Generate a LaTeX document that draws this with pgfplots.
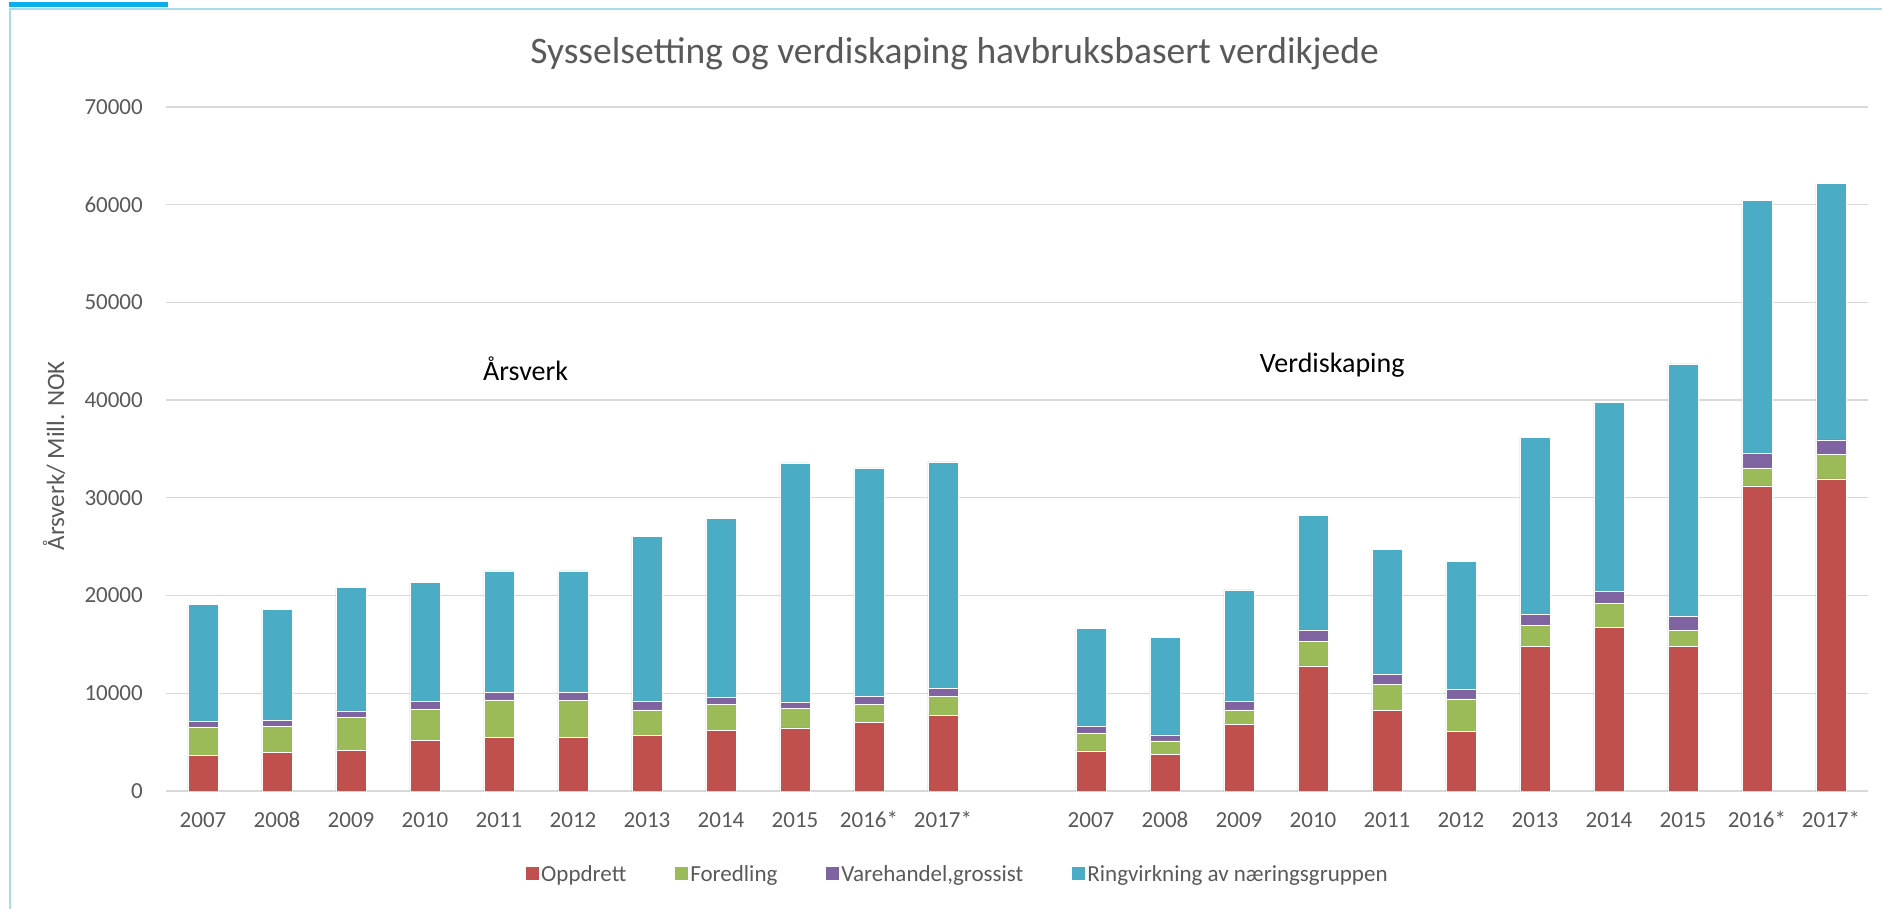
\documentclass[border=0pt]{standalone}
\usepackage{fontspec}
\setmainfont{Carlito}
\usepackage{pgfplots}
\pgfplotsset{compat=1.18}
\usepackage{pgfplotstable}
\definecolor{cOpp}{HTML}{C0504D}
\definecolor{cFor}{HTML}{9BBB59}
\definecolor{cVar}{HTML}{8064A2}
\definecolor{cRing}{HTML}{4BACC6}
\definecolor{txtgray}{HTML}{595959}
\definecolor{gridgray}{HTML}{D9D9D9}
\definecolor{frameblue}{HTML}{0AAEEA}
\definecolor{framelight}{HTML}{A8DDE8}

\pgfplotstableread{
x  opp   for  var  ring
0  3630  2920 610  11920
1  3960  2680 610  11360
2  4190  3350 660  12620
3  5180  3160 850  12150
4  5460  3870 750  12440
5  5460  3820 800  12440
6  5700  2590 900  16860
7  6170  2690 700  18330
8  6450  1980 660  24490
9  7020  1880 760  23410
10 7720  1980 760  23220
12 4100  1830 710  10030
13 3720  1410 620  9940
14 6830  1460 900  11390
15 12810 2500 1180 11720
16 8240  2640 1080 12770
17 6080  3340 990  13050
18 14790 2170 1130 18130
19 16770 2450 1220 19310
20 14790 1650 1410 25860
21 31230 1840 1500 25910
22 31940 2490 1510 26280
}\data

\begin{document}
\begin{tikzpicture}
\useasboundingbox (0,0) rectangle (1882pt,909pt);
\fill[frameblue] (9pt,902pt) rectangle (168pt,907pt);
\draw[framelight, line width=2pt] (9pt,900pt) -- (1882pt,900pt);
\draw[framelight, line width=2pt] (10pt,900pt) -- (10pt,0pt);
\node[font=\fontsize{37.5}{45}\selectfont, text=txtgray] at (954.5pt,855pt) {Sysselsetting og verdiskaping havbruksbasert verdikjede};
\begin{axis}[
  at={(166pt,118pt)}, anchor=south west, scale only axis,
  width=1702pt, height=684pt,
  xmin=-0.5, xmax=22.5, ymin=0, ymax=70000,
  ybar stacked, bar width=30pt,
  axis line style={draw=none},
  ymajorgrids, grid style={gridgray, line width=1.3pt},
  major tick length=0pt,
  xtick={0,1,2,3,4,5,6,7,8,9,10,12,13,14,15,16,17,18,19,20,21,22},
  xticklabels={2007,2008,2009,2010,2011,2012,2013,2014,2015,2016*,2017*,2007,2008,2009,2010,2011,2012,2013,2014,2015,2016*,2017*},
  ytick={0,10000,20000,30000,40000,50000,60000,70000},
  scaled y ticks=false,
  xticklabel style={font=\fontsize{23}{28}\selectfont, text=txtgray, anchor=base, yshift=-36.5pt, inner sep=0pt},
  yticklabel style={font=\fontsize{23}{28}\selectfont, text=txtgray, anchor=east, inner sep=0pt, xshift=-23pt,
    /pgf/number format/1000 sep={}, /pgf/number format/assume math mode=true},
  ylabel={Årsverk/ Mill. NOK},
  ylabel style={at={(rel axis cs:-0.0658,0.49)}, anchor=center, font=\fontsize{25}{30}\selectfont, text=txtgray},
  legend columns=4,
  legend style={at={(0.4653,-0.1213)}, anchor=center, draw=none, fill=none,
    font=\fontsize{23}{28}\selectfont, text=txtgray,
    nodes={inner sep=2.5pt},
    /tikz/every even column/.append style={column sep=46pt}},
  legend image code/.code={\fill[#1, draw=none] (0pt,-6.5pt) rectangle (13pt,6.5pt);},
]
\addplot[fill=cOpp, draw=white, line width=0.6pt] table[x=x,y=opp]{\data};
\addlegendentry{Oppdrett}
\addplot[fill=cFor, draw=white, line width=0.6pt] table[x=x,y=for]{\data};
\addlegendentry{Foredling}
\addplot[fill=cVar, draw=white, line width=0.6pt] table[x=x,y=var]{\data};
\addlegendentry{{Varehandel,grossist}}
\addplot[fill=cRing, draw=white, line width=0.6pt] table[x=x,y=ring]{\data};
\addlegendentry{Ringvirkning av næringsgruppen}
\node[font=\fontsize{28}{34}\selectfont] at (axis cs:4.36,43200) {Årsverk};
\node[font=\fontsize{28}{34}\selectfont] at (axis cs:15.26,43550) {Verdiskaping};
\end{axis}
\end{tikzpicture}
\end{document}
